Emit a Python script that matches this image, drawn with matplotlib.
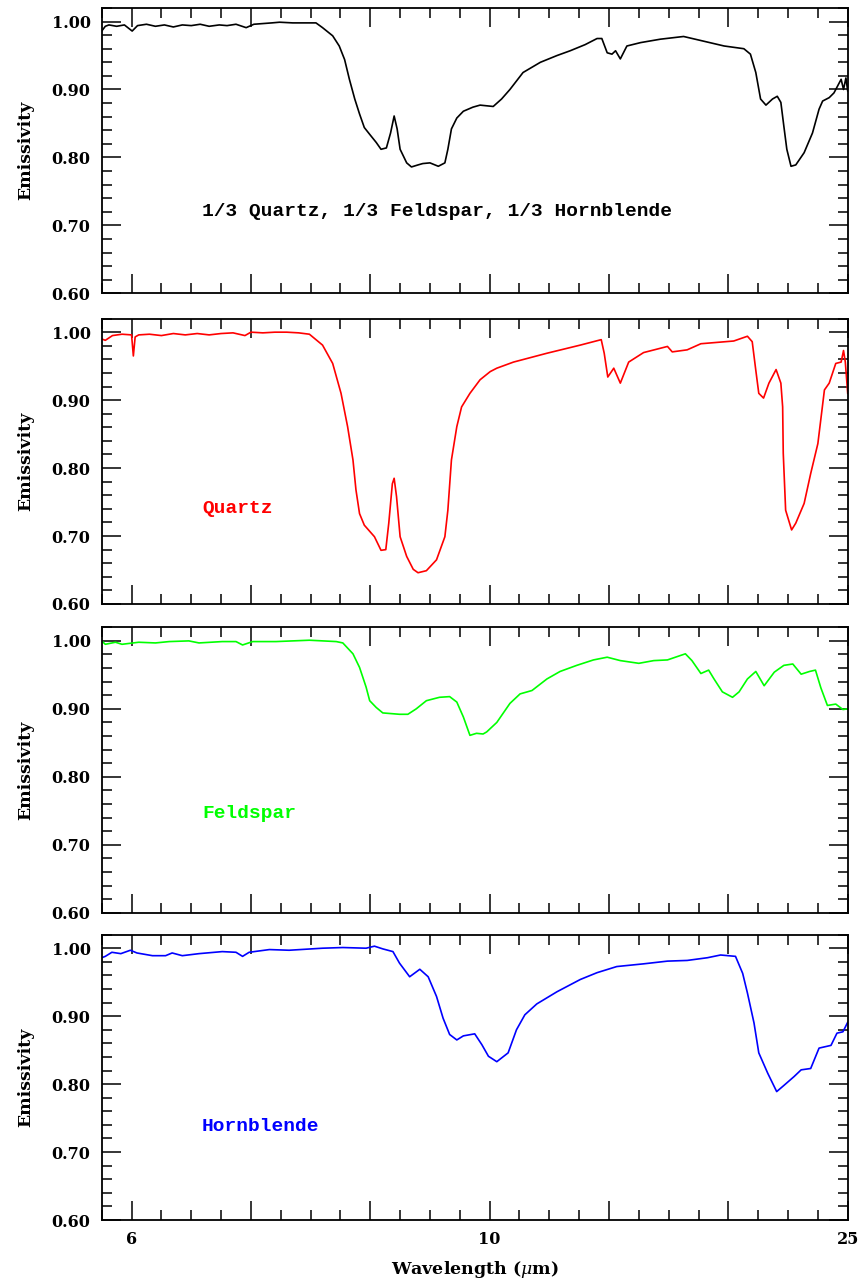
import matplotlib
matplotlib.use('Agg')
import matplotlib.pyplot as plt
import numpy as np
from matplotlib.ticker import MultipleLocator, FixedLocator, FixedFormatter, FormatStrFormatter

plt.rcParams['font.family'] = 'DejaVu Serif'
plt.rcParams['mathtext.fontset'] = 'dejavuserif'

# Spectra: (wavenumber cm-1, emissivity)
mix = [(1650, 0.986), (1644, 0.993), (1638, 0.995), (1625, 0.993), (1612, 0.995),
       (1599, 0.986), (1590, 0.994), (1575, 0.996), (1560, 0.993), (1545, 0.995),
       (1530, 0.992), (1515, 0.995), (1500, 0.994), (1485, 0.996), (1470, 0.993),
       (1453, 0.995), (1440, 0.994), (1425, 0.996), (1408, 0.991), (1395, 0.996),
       (1380, 0.997), (1365, 0.998), (1352, 0.999), (1330, 0.998), (1310, 0.998),
       (1291, 0.998), (1280, 0.991), (1263, 0.979), (1252, 0.964), (1243, 0.944),
       (1235, 0.915), (1226, 0.886), (1218, 0.864), (1210, 0.844), (1201, 0.834),
       (1190, 0.822), (1182, 0.812), (1173, 0.814), (1166, 0.836), (1160, 0.861),
       (1155, 0.842), (1150, 0.812), (1139, 0.792), (1131, 0.786), (1120, 0.789),
       (1112, 0.791), (1100, 0.792), (1086, 0.787), (1075, 0.792), (1070, 0.812),
       (1064, 0.842), (1055, 0.858), (1044, 0.868), (1028, 0.874), (1016, 0.877),
       (994, 0.875), (980, 0.886), (966, 0.900), (944, 0.925), (915, 0.940),
       (887, 0.950), (865, 0.957), (840, 0.966), (820, 0.975), (812, 0.975),
       (803, 0.954), (795, 0.952), (789, 0.957), (781, 0.945), (770, 0.964),
       (747, 0.969), (714, 0.974), (675, 0.978), (641, 0.971), (607, 0.964),
       (574, 0.960), (563, 0.952), (554, 0.925), (546, 0.886), (537, 0.877),
       (526, 0.886), (518, 0.890), (512, 0.881), (507, 0.846), (502, 0.812),
       (495, 0.787), (487, 0.789), (473, 0.807), (459, 0.836), (448, 0.871),
       (442, 0.883), (431, 0.888), (423, 0.895), (417, 0.905), (411, 0.915),
       (407, 0.900), (403, 0.917), (400, 0.898)]

quartz = [(1650, 0.990), (1644, 0.988), (1632, 0.995), (1616, 0.997), (1600, 0.996),
          (1597, 0.965), (1594, 0.993), (1588, 0.996), (1570, 0.997), (1550, 0.995),
          (1530, 0.998), (1510, 0.996), (1490, 0.998), (1470, 0.996), (1450, 0.998),
          (1430, 0.999), (1410, 0.995), (1400, 1.000), (1380, 0.999), (1360, 1.000),
          (1340, 1.000), (1320, 0.999), (1302, 0.997), (1280, 0.981), (1263, 0.954),
          (1249, 0.910), (1238, 0.861), (1229, 0.812), (1224, 0.768), (1218, 0.733),
          (1210, 0.716), (1193, 0.699), (1182, 0.679), (1174, 0.680), (1169, 0.719),
          (1163, 0.777), (1160, 0.785), (1156, 0.758), (1150, 0.699), (1139, 0.670),
          (1128, 0.651), (1120, 0.646), (1106, 0.649), (1089, 0.665), (1075, 0.699),
          (1070, 0.738), (1064, 0.812), (1055, 0.861), (1047, 0.890), (1033, 0.910),
          (1016, 0.930), (999, 0.942), (988, 0.947), (960, 0.956), (904, 0.969),
          (848, 0.981), (813, 0.989), (808, 0.969), (802, 0.934), (792, 0.947),
          (781, 0.925), (767, 0.956), (742, 0.970), (702, 0.979), (694, 0.971),
          (669, 0.974), (646, 0.983), (591, 0.987), (568, 0.994), (560, 0.986),
          (554, 0.944), (549, 0.910), (541, 0.903), (532, 0.925), (520, 0.945),
          (512, 0.925), (509, 0.890), (508, 0.822), (504, 0.738), (494, 0.709),
          (487, 0.719), (473, 0.748), (462, 0.792), (450, 0.836), (439, 0.915),
          (431, 0.925), (420, 0.954), (411, 0.956), (407, 0.973), (404, 0.956),
          (400, 0.910)]

feldspar = [(1650, 1.000), (1644, 0.995), (1627, 0.998), (1616, 0.995), (1588, 0.998),
            (1560, 0.997), (1537, 0.999), (1504, 1.000), (1487, 0.997), (1448, 0.999),
            (1425, 0.999), (1414, 0.994), (1397, 0.999), (1358, 0.999), (1302, 1.001),
            (1257, 0.999), (1246, 0.997), (1229, 0.981), (1218, 0.961), (1207, 0.932),
            (1201, 0.912), (1190, 0.902), (1179, 0.894), (1151, 0.892), (1137, 0.892),
            (1123, 0.900), (1106, 0.912), (1084, 0.917), (1067, 0.918), (1055, 0.910),
            (1044, 0.888), (1033, 0.861), (1022, 0.864), (1011, 0.863), (1005, 0.866),
            (988, 0.880), (966, 0.908), (949, 0.922), (929, 0.927), (904, 0.944),
            (882, 0.955), (854, 0.964), (826, 0.972), (803, 0.976), (781, 0.971),
            (750, 0.967), (725, 0.971), (702, 0.972), (672, 0.981), (661, 0.971),
            (646, 0.952), (633, 0.957), (624, 0.944), (610, 0.925), (593, 0.917),
            (582, 0.925), (568, 0.944), (554, 0.955), (540, 0.934), (523, 0.954),
            (507, 0.964), (492, 0.966), (478, 0.951), (464, 0.955), (454, 0.957),
            (445, 0.931), (434, 0.905), (420, 0.907), (408, 0.899), (400, 0.900)]

hornblende = [(1650, 0.986), (1644, 0.988), (1633, 0.994), (1618, 0.992), (1602, 0.997),
              (1591, 0.993), (1565, 0.989), (1543, 0.989), (1532, 0.993), (1515, 0.989),
              (1487, 0.992), (1448, 0.995), (1425, 0.994), (1414, 0.988), (1403, 0.994),
              (1369, 0.998), (1336, 0.997), (1280, 1.000), (1246, 1.001), (1207, 1.000),
              (1193, 1.003), (1179, 0.999), (1162, 0.995), (1151, 0.978), (1134, 0.958),
              (1117, 0.969), (1103, 0.958), (1089, 0.929), (1078, 0.897), (1067, 0.873),
              (1055, 0.865), (1044, 0.871), (1025, 0.874), (1013, 0.858), (1002, 0.841),
              (988, 0.833), (969, 0.846), (955, 0.880), (941, 0.902), (921, 0.918),
              (887, 0.936), (848, 0.954), (820, 0.964), (787, 0.973), (742, 0.977),
              (702, 0.981), (669, 0.982), (635, 0.986), (613, 0.990), (588, 0.988),
              (576, 0.963), (568, 0.934), (557, 0.890), (549, 0.846), (534, 0.816),
              (519, 0.789), (507, 0.798), (490, 0.811), (478, 0.821), (462, 0.823),
              (448, 0.853), (428, 0.857), (418, 0.875), (408, 0.877), (400, 0.891)]

series = [mix, quartz, feldspar, hornblende]
names  = ['1/3 Quartz, 1/3 Feldspar, 1/3 Hornblende', 'Quartz', 'Feldspar', 'Hornblende']
colors = ['black', '#ff0000', '#00ff00', '#0000ff']
text_y = [0.72, 0.74, 0.746, 0.738]

# axis ticks: linear in wavenumber, labelled in wavelength
xticks      = [1600, 1400, 1200, 1000, 800, 600, 400]
xticklabels = ['6', '', '', '10', '', '', '25']

fig = plt.figure(figsize=(8.65, 12.81), dpi=100)
bottoms = [0.7710, 0.5285, 0.2875, 0.0476]

for i in range(4):
    ax = fig.add_axes([0.1176, bottoms[i], 0.8624, 0.2228])
    wn, em = zip(*series[i])
    ax.plot(wn, em, color=colors[i], lw=1.2)

    ax.set_xlim(1650, 400)
    ax.set_ylim(0.6, 1.02)
    ax.xaxis.set_major_locator(FixedLocator(xticks))
    ax.xaxis.set_major_formatter(FixedFormatter(xticklabels))
    ax.xaxis.set_minor_locator(MultipleLocator(50))
    ax.yaxis.set_major_locator(MultipleLocator(0.1))
    ax.yaxis.set_minor_locator(MultipleLocator(0.02))
    ax.yaxis.set_major_formatter(FormatStrFormatter('%.2f'))

    ax.tick_params(which='both', direction='in', top=True, right=True, width=1.1)
    ax.tick_params(which='major', length=14, labelsize=11.5, pad=8)
    ax.tick_params(which='minor', length=7.5)
    ax.tick_params(axis='x', labelbottom=(i == 3))
    for lbl in ax.get_xticklabels() + ax.get_yticklabels():
        lbl.set_fontweight('bold')
    for sp in ax.spines.values():
        sp.set_linewidth(1.3)

    ax.set_ylabel('Emissivity', fontsize=12.5, fontweight='bold')
    ax.yaxis.set_label_coords(-0.091, 0.5)

    ax.text(1482, text_y[i], names[i], color=colors[i], fontsize=14,
            family='Liberation Mono', fontweight='bold', ha='left', va='center')

    if i == 3:
        ax.set_xlabel(r'Wavelength ($\mu$m)', fontsize=12.5, fontweight='bold', labelpad=8)

fig.savefig('out.png', dpi=100)
